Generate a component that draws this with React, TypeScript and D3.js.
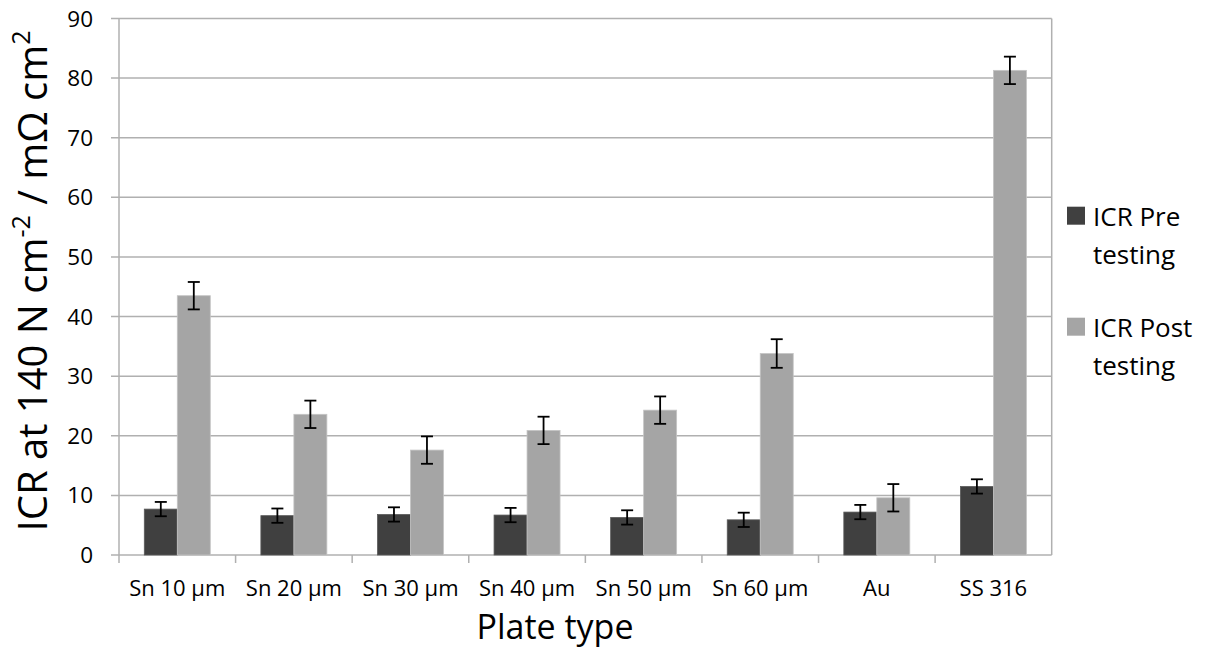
import React, { useEffect, useRef } from 'react';
import * as d3 from 'd3';

const categories = ['Sn 10 µm', 'Sn 20 µm', 'Sn 30 µm', 'Sn 40 µm', 'Sn 50 µm', 'Sn 60 µm', 'Au', 'SS 316'];
const preValues = [7.7, 6.6, 6.8, 6.7, 6.3, 5.9, 7.2, 11.5];
const postValues = [43.5, 23.6, 17.6, 20.9, 24.3, 33.8, 9.6, 81.3];
const preErrors = [1.2, 1.2, 1.2, 1.2, 1.2, 1.2, 1.2, 1.2];
const postErrors = [2.3, 2.3, 2.3, 2.3, 2.3, 2.4, 2.3, 2.3];
const yTicks = [0, 10, 20, 30, 40, 50, 60, 70, 80, 90];
const seriesNames = ['ICR Pre testing', 'ICR Post testing'];
const seriesColors = ['#404040', '#a5a5a5'];

const App = () => {
  const svgRef = useRef<SVGSVGElement>(null);

  useEffect(() => {
    const svg = d3.select(svgRef.current);
    svg.selectAll('*').remove();

    const left = 119, right = 1051.7, top = 18.5, bottom = 555;
    const font = "'Open Sans', sans-serif";
    const grid = '#b0b0b0';

    const x = d3.scaleBand().domain(categories).range([left, right]).paddingInner(0.434).paddingOuter(0.217);
    const xs = d3.scaleBand().domain(['pre', 'post']).range([0, x.bandwidth()]);
    const y = d3.scaleLinear().domain([0, 90]).range([bottom, top]);

    // gridlines
    svg.append('g')
      .selectAll('line')
      .data(yTicks)
      .enter()
      .append('line')
      .attr('x1', left - 8)
      .attr('x2', right)
      .attr('y1', d => y(d))
      .attr('y2', d => y(d))
      .attr('stroke', grid)
      .attr('stroke-width', 1.5);

    // plot border
    svg.append('line').attr('x1', left).attr('x2', left).attr('y1', top).attr('y2', bottom + 8)
      .attr('stroke', grid).attr('stroke-width', 1.5);
    svg.append('line').attr('x1', right).attr('x2', right).attr('y1', top).attr('y2', bottom)
      .attr('stroke', grid).attr('stroke-width', 1.5);

    // category ticks
    const step = x.step();
    svg.append('g')
      .selectAll('line')
      .data(categories.slice(1))
      .enter()
      .append('line')
      .attr('x1', d => (x(d) as number) - step * 0.217)
      .attr('x2', d => (x(d) as number) - step * 0.217)
      .attr('y1', bottom)
      .attr('y2', bottom + 8)
      .attr('stroke', grid)
      .attr('stroke-width', 1.5);

    // y tick labels
    svg.append('g')
      .selectAll('text')
      .data(yTicks)
      .enter()
      .append('text')
      .attr('x', 93)
      .attr('y', d => y(d))
      .attr('dy', '0.36em')
      .attr('text-anchor', 'end')
      .style('font-family', font)
      .style('font-size', '22.5px')
      .attr('fill', '#000')
      .text(d => d);

    // x tick labels
    svg.append('g')
      .selectAll('text')
      .data(categories)
      .enter()
      .append('text')
      .attr('x', d => (x(d) as number) + x.bandwidth() / 2)
      .attr('y', 596)
      .attr('text-anchor', 'middle')
      .style('font-family', font)
      .style('font-size', '22px')
      .attr('fill', '#000')
      .text(d => d);

    const rows = categories.map((c, i) => ({
      c, pre: preValues[i], post: postValues[i], preErr: preErrors[i], postErr: postErrors[i]
    }));

    const series = [
      { key: 'pre', color: seriesColors[0], stroke: '#5a5a5a', val: (d: any) => d.pre, err: (d: any) => d.preErr },
      { key: 'post', color: seriesColors[1], stroke: '#c4c4c4', val: (d: any) => d.post, err: (d: any) => d.postErr }
    ];

    series.forEach(s => {
      svg.append('g')
        .selectAll('rect')
        .data(rows)
        .enter()
        .append('rect')
        .attr('x', d => (x(d.c) as number) + (xs(s.key) as number))
        .attr('y', d => y(s.val(d)))
        .attr('width', xs.bandwidth())
        .attr('height', d => bottom - y(s.val(d)))
        .attr('fill', s.color)
        .attr('stroke', s.stroke)
        .attr('stroke-width', 0.8);
    });

    // error bars
    series.forEach(s => {
      const g = svg.append('g');
      rows.forEach(d => {
        const cx = (x(d.c) as number) + (xs(s.key) as number) + xs.bandwidth() / 2;
        const hi = y(s.val(d) + s.err(d));
        const lo = y(s.val(d) - s.err(d));
        g.append('line').attr('x1', cx).attr('x2', cx).attr('y1', hi).attr('y2', lo)
          .attr('stroke', '#000').attr('stroke-width', 1.8);
        [hi, lo].forEach(v => {
          g.append('line').attr('x1', cx - 6).attr('x2', cx + 6).attr('y1', v).attr('y2', v)
            .attr('stroke', '#000').attr('stroke-width', 1.8);
        });
      });
    });

    // axis titles
    svg.append('text')
      .attr('x', 555)
      .attr('y', 639)
      .attr('text-anchor', 'middle')
      .style('font-family', font)
      .style('font-size', '34px')
      .attr('fill', '#000')
      .text('Plate type');

    const yt = svg.append('text')
      .attr('transform', 'translate(47,281) rotate(-90)')
      .attr('text-anchor', 'middle')
      .style('font-family', font)
      .style('font-size', '40px')
      .attr('fill', '#000');
    yt.append('tspan').text('ICR at 140 N cm');
    yt.append('tspan').attr('baseline-shift', 'super').style('font-size', '25px').text('-2');
    yt.append('tspan').text(' / mΩ cm');
    yt.append('tspan').attr('baseline-shift', 'super').style('font-size', '25px').text('2');

    // legend
    const leg = svg.append('g');
    seriesNames.forEach((name, i) => {
      const words = name.split(' ');
      const by = 225.7 + i * 111;
      leg.append('rect')
        .attr('x', 1067)
        .attr('y', by - 19)
        .attr('width', 18)
        .attr('height', 18)
        .attr('fill', seriesColors[i]);
      const t = leg.append('text')
        .style('font-family', font)
        .style('font-size', '26px')
        .attr('fill', '#000');
      t.append('tspan').attr('x', 1093).attr('y', by).text(words.slice(0, 2).join(' '));
      t.append('tspan').attr('x', 1093).attr('y', by + 38).text(words[2]);
    });
  }, []);

  return (
    <div className="chart-container">
      <svg ref={svgRef} width={1209} height={650} style={{ position: 'absolute', left: 0, top: 0, background: '#fff' }} />
    </div>
  );
};

export default App;
